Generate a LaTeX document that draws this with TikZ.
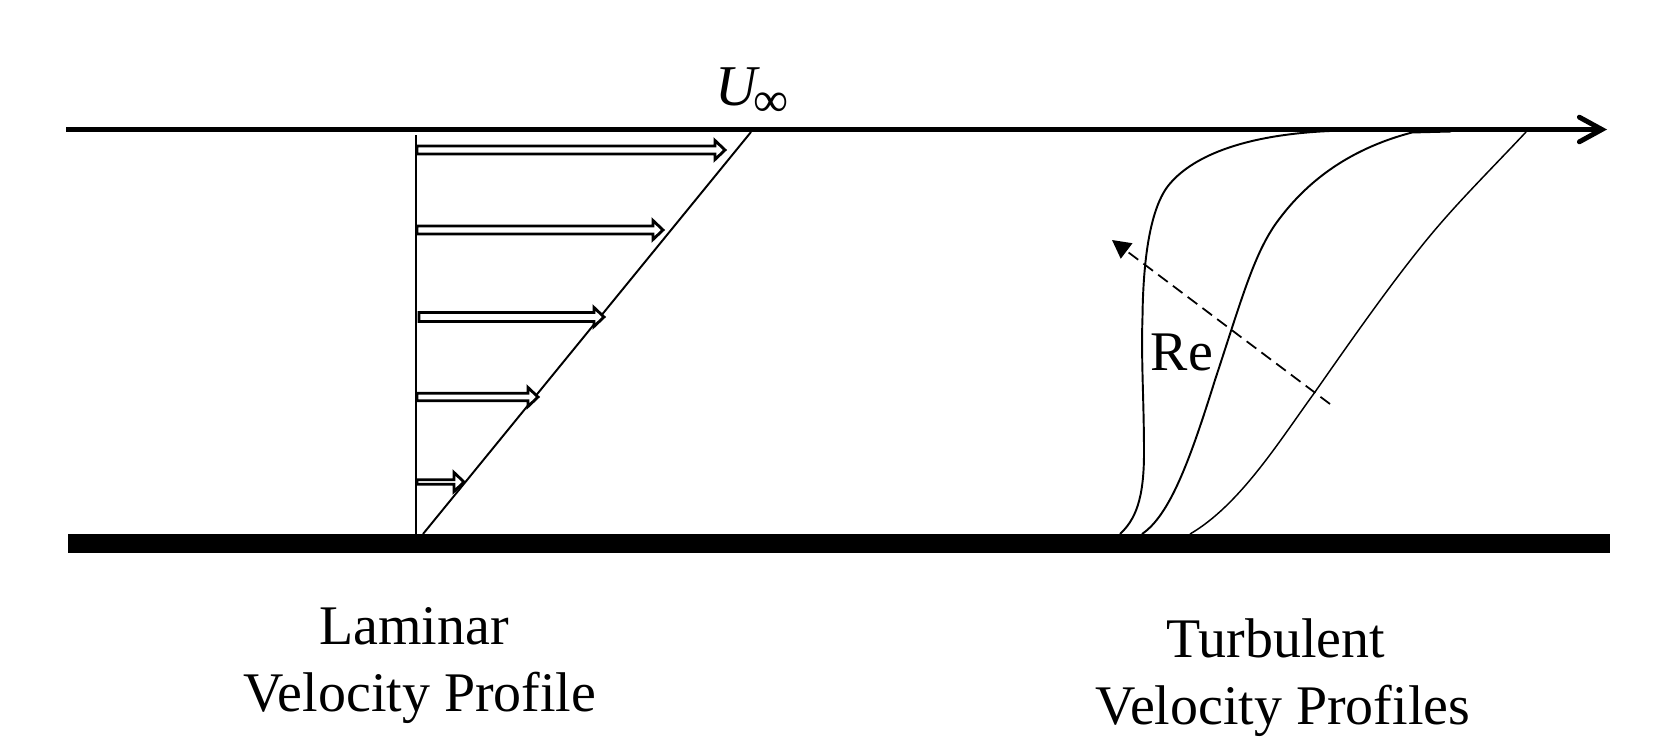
\documentclass[tikz,border=0pt]{standalone}
\usepackage{fontspec}
\setmainfont{Liberation Serif}
\usetikzlibrary{arrows.meta}
\tikzstyle{profile} = [line width=0.55pt,line join=round]
\tikzstyle{label} = [anchor=base,inner sep=0pt,font=\fontsize{15.9}{18}\selectfont]
\tikzstyle{velarrow} = [line width=0.8pt,fill=white,miter limit=10]
\begin{document}
\begin{tikzpicture}[x=0.01cm,y=-0.01cm]
\useasboundingbox (0,0) rectangle (1672,745);

% free stream and wall
\coordinate (inletTop) at (66,129.5);
\coordinate (outletTop) at (1607,129.5);
\draw[line width=1.4pt,-{Straight Barb[length=6.4pt,width=7pt,line cap=round]}] (inletTop) -- (outletTop);
\fill (68,534) rectangle (1610,553);

% laminar profile
\coordinate (wallLam) at (415.7,534);
\coordinate (topLam) at (415.7,135);
\coordinate (baseLam) at (423,534);
\coordinate (edgeLam) at (751,132);
\draw[line width=0.55pt] (wallLam) -- (topLam);
\draw[line width=0.55pt] (baseLam) -- (edgeLam);

\foreach \ya/\xa/\xb/\hw in {150/417/725/4,230/417/663/4,317/419/604/4.5,397/417/538/3.8,482/417/464/2.3} {
\draw[velarrow] (\xa,\ya-\hw) -- (\xb-10,\ya-\hw) -- (\xb-10,\ya-9.5) -- (\xb,\ya)
  -- (\xb-10,\ya+9.5) -- (\xb-10,\ya+\hw) -- (\xa,\ya+\hw) -- cycle;
}

% turbulent profiles
\draw[profile] (1120,534) .. controls (1135,520) and (1144,500) .. (1144,453)
  .. controls (1144,400) and (1141,360) .. (1142.5,317)
  .. controls (1143,270) and (1148,212) .. (1168,186)
  .. controls (1190,158) and (1240,135) .. (1330,131);
\draw[profile] (1142,534) .. controls (1170,515) and (1190,460) .. (1215,380)
  .. controls (1243,295) and (1255,250) .. (1280,218)
  .. controls (1305,185) and (1345,150) .. (1412,132.5) -- (1451,131.5);
\draw[profile,line width=0.42pt] (1190,534) .. controls (1240,505) and (1280,440) .. (1315,392)
  .. controls (1350,342) and (1400,270) .. (1440,224)
  .. controls (1465,195) and (1495,165) .. (1526,132);

\coordinate (reStart) at (1330,404);
\coordinate (reEnd) at (1112,240);
\draw[line width=0.5pt,dash pattern=on 3.4pt off 1.85pt,-{Triangle[length=5.2pt,width=5.4pt]}] (reStart) -- (reEnd);

% labels
\node[label,anchor=base west] (uInf) at (715,105) {\fontsize{16.4}{18}\selectfont\textit{U}\kern-2pt\raisebox{-3.4pt}{\fontsize{14}{14}\selectfont ∞}};
\node[label] (reLabel) at (1182,370) {Re};
\node[label] (lamOne) at (414,644) {Laminar};
\node[label] (lamTwo) at (420,711) {Velocity Profile};
\node[label] (turbOne) at (1276,657) {Turbulent};
\node[label] (turbTwo) at (1283,724) {Velocity Profiles};
\end{tikzpicture}
\end{document}
